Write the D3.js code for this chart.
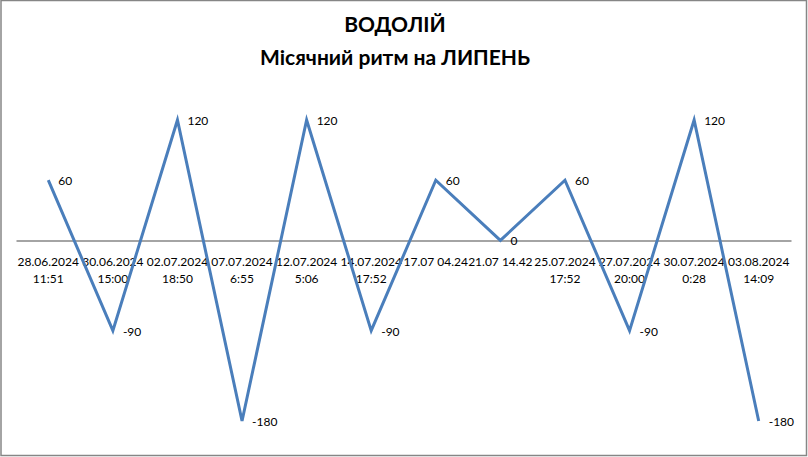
<!DOCTYPE html>
<html>
<head>
<meta charset="utf-8">
<script src="https://cdn.jsdelivr.net/npm/d3@7"></script>
<style>
  body { margin: 0; background: #fff; }
  svg { display: block; font-family: Lato, "Liberation Sans", sans-serif; }
</style>
</head>
<body>
<div id="chart"></div>
<script>
const dates = ['28.06.2024', '30.06.2024', '02.07.2024', '07.07.2024', '12.07.2024', '14.07.2024',
  '17.07 04.24', '21.07 14.42', '25.07.2024', '27.07.2024', '30.07.2024', '03.08.2024'];
const times = ['11:51', '15:00', '18:50', '6:55', '5:06', '17:52', '', '', '17:52', '20:00', '0:28', '14:09'];
const values = [60, -90, 120, -180, 120, -90, 60, 0, 60, -90, 120, -180];

const width = 808;
const height = 457;

const svg = d3.select('#chart')
  .append('svg')
  .attr('width', width)
  .attr('height', height);

// outer frame
svg.append('rect')
  .attr('x', 1)
  .attr('y', 0.5)
  .attr('width', width - 2.5)
  .attr('height', height - 2)
  .attr('fill', '#fff')
  .attr('stroke', '#868686')
  .attr('stroke-width', 1.5);

// title
const title = svg.append('text')
  .attr('text-anchor', 'middle')
  .attr('font-weight', 'bold')
  .attr('font-size', 21)
  .attr('fill', '#000');
title.append('tspan').attr('x', 395).attr('y', 32).text('ВОДОЛІЙ');
title.append('tspan').attr('x', 395).attr('y', 65).text('Місячний ритм на ЛИПЕНЬ');

const x = d3.scalePoint()
  .domain(d3.range(dates.length))
  .range([16, 791])
  .padding(0.5);

const y = d3.scaleLinear()
  .domain([-180, 120])
  .range([421, 120]);

// category axis on zero line
const axis = svg.append('g')
  .attr('transform', `translate(0,${y(0)})`)
  .call(d3.axisBottom(x).tickSize(0).tickSizeOuter(0).tickFormat(''));
axis.select('.domain').attr('stroke', '#868686').attr('stroke-width', 1.5);
axis.selectAll('.tick text').remove();

const labels = svg.append('g')
  .attr('font-size', 12)
  .attr('fill', '#000')
  .attr('text-anchor', 'middle');
dates.forEach((d, i) => {
  const t = labels.append('text');
  t.append('tspan').attr('x', x(i)).attr('y', 266).text(d);
  if (times[i]) t.append('tspan').attr('x', x(i)).attr('y', 283).text(times[i]);
});

const line = d3.line()
  .x((d, i) => x(i))
  .y((d) => y(d));

svg.append('path')
  .datum(values)
  .attr('d', line)
  .attr('fill', 'none')
  .attr('stroke', '#4a7ebb')
  .attr('stroke-width', 3)
  .attr('stroke-linejoin', 'miter')
  .attr('stroke-linecap', 'butt');

// data labels to the right of points
svg.append('g')
  .attr('font-size', 12)
  .attr('fill', '#000')
  .selectAll('text')
  .data(values)
  .enter()
  .append('text')
  .attr('x', (d, i) => x(i) + 10)
  .attr('y', (d) => y(d) + 5)
  .text((d) => d);
</script>
</body>
</html>
